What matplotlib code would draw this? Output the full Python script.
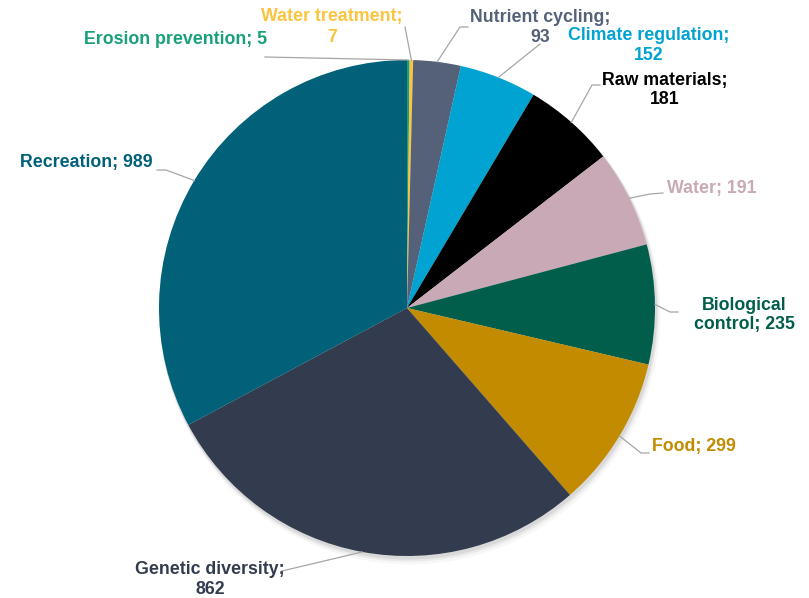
import matplotlib
matplotlib.use("Agg")
import matplotlib.pyplot as plt
import numpy as np
from matplotlib.patches import Circle

categories = ["Erosion prevention", "Water treatment", "Nutrient cycling", "Climate regulation",
              "Raw materials", "Water", "Biological control", "Food", "Genetic diversity", "Recreation"]
values = [5, 7, 93, 152, 181, 191, 235, 299, 862, 989]
colors = ["#17a07a", "#fbc43c", "#556178", "#00a3d1", "#000000", "#c8a9b5",
          "#005e4b", "#c28b00", "#333c4e", "#006179"]
label_texts = ["Erosion prevention; 5", "Water treatment;\n7", "Nutrient cycling;\n93",
               "Climate regulation;\n152", "Raw materials;\n181", "Water; 191",
               "Biological\ncontrol; 235", "Food; 299", "Genetic diversity;\n862", "Recreation; 989"]

W, H = 809, 598
LINE_H = 20  # pixel distance between label lines
fig = plt.figure(figsize=(W / 100, H / 100), dpi=100)
ax = fig.add_axes([0, 0, 1, 1])

cx, cy, R = 407, H - 308, 248

# soft shadow
for off, a in [(6, 0.03), (4, 0.05), (2.5, 0.07)]:
    ax.add_patch(Circle((cx + off * 0.5, cy - off), R + off * 0.4, color="black", alpha=a, lw=0, zorder=0))

wedges, _ = ax.pie(values, colors=colors, startangle=90, counterclock=False,
                   center=(cx, cy), radius=R, wedgeprops=dict(linewidth=0), frame=True)
ax.set_xlim(0, W)
ax.set_ylim(0, H)
ax.set_aspect("equal")
ax.axis("off")

# label layout in pixel coordinates (x, y-from-top), leader points
layout = [
    dict(pos=(176, 40), line=[(265, 57)]),
    dict(pos=(332, 27), line=[(405, 27)]),
    dict(pos=(540, 27), line=[(468, 27), (460, 27)]),
    dict(pos=(649, 46), line=[(540, 44)]),
    dict(pos=(665, 90), line=[(600, 85), (592, 85)]),
    dict(pos=(712, 189), line=[(663, 193), (650, 194)]),
    dict(pos=(744, 315), line=[(678, 312), (670, 312)]),
    dict(pos=(694, 447), line=[(649, 453), (641, 453)]),
    dict(pos=(210, 580), line=[(282, 571)]),
    dict(pos=(86, 162), line=[(157, 170), (166, 170)]),
]

for w, txt, col, lay in zip(wedges, label_texts, colors, layout):
    ang = np.deg2rad((w.theta1 + w.theta2) / 2)
    ex, ey = cx + R * np.cos(ang), cy + R * np.sin(ang)
    pts = [(x, H - y) for x, y in lay["line"]] + [(ex, ey)]
    xs, ys = zip(*pts)
    ax.plot(xs, ys, color="#a6a6a6", lw=0.9, zorder=3)
    lines = txt.split("\n")
    n = len(lines)
    for i, s in enumerate(lines):
        y = lay["pos"][1] + (i - (n - 1) / 2) * LINE_H
        ax.text(lay["pos"][0], H - y, s, ha="center", va="center",
                color=col, fontsize=12.8, fontweight="bold", family="Liberation Sans", zorder=4)

fig.savefig("out.png", dpi=100)
